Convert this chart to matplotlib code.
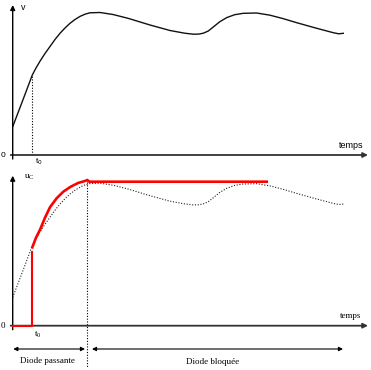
import matplotlib
matplotlib.use("Agg")
import matplotlib.pyplot as plt

# source voltage v(t) (arbitrary units)
t = [0, 10, 19.6, 23.3, 27.3, 32.3, 37.3, 42.3, 47.3, 52.3, 57.3, 62.3, 67.3, 72.3,
     77.3, 87.3, 100.3, 115.3, 137.3, 157.3, 172, 180.6, 186, 190.6, 195.6, 200.6,
     207, 214, 222, 230.6, 244, 257.3, 270, 284, 304, 320.6, 326, 330.6]
v = [28.3, 54.5, 80, 87, 93.8, 101.5, 108.5, 115.5, 121.7, 127, 131.7, 135.5, 138.6, 140.8,
     142.2, 142.5, 140.5, 136.7, 130, 124.5, 121.8, 120.8, 120.9, 121.8, 124, 128,
     133.2, 137.4, 140.3, 141.7, 142, 139.8, 136.5, 132.3, 126.7, 122.3, 121.2, 121.7]

t0 = 19.6
t_block = 74.6

# capacitor voltage u_C (red)
uc_t = [t0, 23.3, 27.3, 32.3, 37.3, 44, 50.6, 58, 65.6, 72.3, 74.6, 76.6, 254]
uc_v = [78.4, 88, 96, 108, 118.5, 127.5, 134, 139, 142.8, 144.7, 145.7, 144, 144]
step_t = [0, t0, t0]
step_v = [0, 0, 74]

W, H = 371, 370
fig = plt.figure(figsize=(3.71, 3.70), dpi=100)
ax1 = fig.add_axes([12.7 / W, (H - 155) / H, 355.3 / W, 150 / H])
ax2 = fig.add_axes([12.7 / W, (H - 325.7) / H, 355.3 / W, 150 / H])

sans = "Liberation Sans"
serif = "Liberation Serif"

for ax in (ax1, ax2):
    ax.set_xlim(0, 355.3)
    ax.set_ylim(0, 150)
    ax.axis("off")
    # axes with arrows
    ax.annotate("", xy=(355.3, 0), xytext=(-2, 0), xycoords="data",
                arrowprops=dict(arrowstyle="-|>", color="#333333", lw=1.3,
                                mutation_scale=7, shrinkA=0, shrinkB=0),
                annotation_clip=False)
    ax.annotate("", xy=(0, 150), xytext=(0, -4), xycoords="data",
                arrowprops=dict(arrowstyle="-|>", color="black", lw=1.0,
                                mutation_scale=7, shrinkA=0, shrinkB=0),
                annotation_clip=False)

# top panel
ax1.plot(t, v, color="#111111", lw=1.0, solid_joinstyle="round")
ax1.plot([t0, t0], [0, v[2]], color="black", lw=0.8, ls=(0, (1, 1.5)))
ax1.text(-9.4, 0, "0", fontsize=6, family=sans, ha="center", va="center")
ax1.text(10.6, 148, "v", fontsize=6.5, family=sans, ha="center", va="center")
ax1.text(338.6, 9.3, "temps", fontsize=6.5, family=sans, ha="center", va="center")
ax1.text(26, -7, "t$_0$", fontsize=6, family=sans, ha="center", va="center")

# bottom panel
ax2.plot(t, v, color="#222222", lw=0.8, ls=(0, (1, 1.5)))
ax2.plot(step_t, step_v, color="red", lw=1.5, zorder=5, clip_on=False)
ax2.plot(uc_t, uc_v, color="red", lw=1.9, solid_joinstyle="round", zorder=5)
ax2.plot([t_block, t_block], [144, -42], color="black", lw=0.8, ls=(0, (1, 1.5)),
         clip_on=False)
ax2.text(-9.4, 0, "0", fontsize=6.5, family=serif, ha="center", va="center")
ax2.text(17, 148, "u$_\\mathregular{C}$", fontsize=6.5, family=serif, ha="center", va="center")
ax2.text(338, 10, "temps", fontsize=6.5, family=serif, ha="center", va="center")
ax2.text(25, -8.6, "t$_\\mathregular{0}$", fontsize=6.5, family=serif, ha="center", va="center")

ax2.annotate("", xy=(0.6, -23.3), xytext=(72.3, -23.3),
             arrowprops=dict(arrowstyle="<|-|>", color="black", lw=0.8,
                             mutation_scale=6, shrinkA=0, shrinkB=0),
             annotation_clip=False)
ax2.annotate("", xy=(79.3, -23.3), xytext=(330.3, -23.3),
             arrowprops=dict(arrowstyle="<|-|>", color="black", lw=0.8,
                             mutation_scale=6, shrinkA=0, shrinkB=0),
             annotation_clip=False)
ax2.text(34.3, -35, "Diode passante", fontsize=6.5, family=serif, ha="center", va="center")
ax2.text(200, -36, "Diode bloquée", fontsize=6.5, family=serif, ha="center", va="center")

fig.savefig("out.png", dpi=100)
